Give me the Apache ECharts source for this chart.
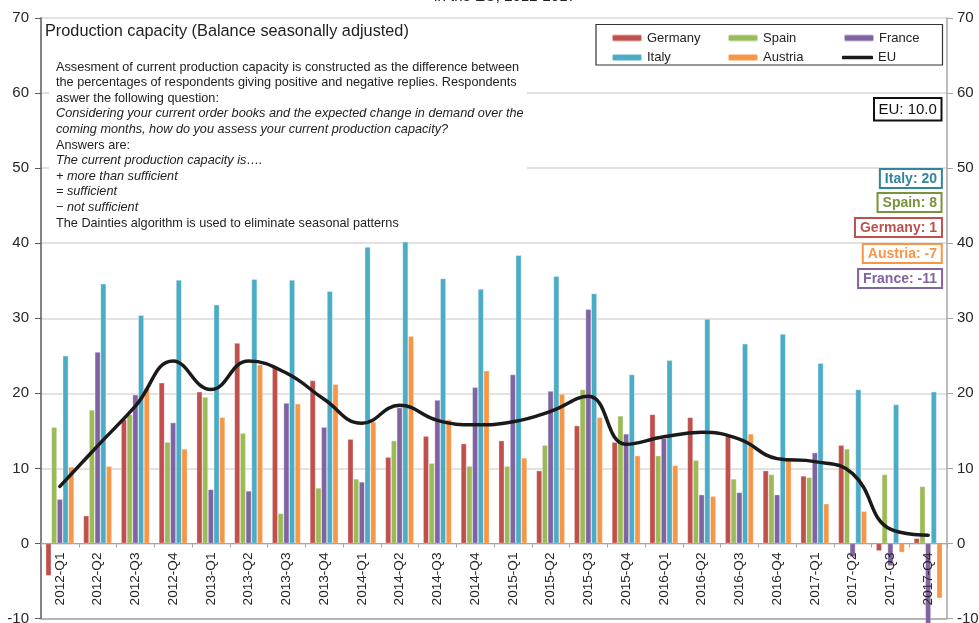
<!DOCTYPE html>
<html>
<head>
<meta charset="utf-8">
<script src="https://cdn.jsdelivr.net/npm/echarts@6/dist/echarts.min.js"></script>
<style>
  html, body { margin: 0; padding: 0; background: #fff; }
  #chart { width: 979px; height: 623px; }
</style>
</head>
<body>
<div id="chart"></div>
<script>
const categories = ['2012-Q1', '2012-Q2', '2012-Q3', '2012-Q4', '2013-Q1', '2013-Q2', '2013-Q3', '2013-Q4',
  '2014-Q1', '2014-Q2', '2014-Q3', '2014-Q4', '2015-Q1', '2015-Q2', '2015-Q3', '2015-Q4',
  '2016-Q1', '2016-Q2', '2016-Q3', '2016-Q4', '2017-Q1', '2017-Q2', '2017-Q3', '2017-Q4']
const germany = [-4.3, 3.7, 16.5, 21.4, 20.2, 26.7, 23.6, 21.7, 13.9, 11.5, 14.3, 13.3, 13.7, 9.7, 15.7, 13.5, 17.2, 16.8, 14.3, 9.7, 9.0, 13.1, -1.0, 0.7]
const spain = [15.5, 17.8, 17.2, 13.5, 19.5, 14.7, 4.0, 7.4, 8.6, 13.7, 10.7, 10.3, 10.3, 13.1, 20.5, 17.0, 11.7, 11.1, 8.6, 9.2, 8.8, 12.6, 9.2, 7.6]
const france = [5.9, 25.5, 19.8, 16.1, 7.2, 7.0, 18.7, 15.5, 8.2, 18.1, 19.1, 20.8, 22.5, 20.3, 31.2, 14.6, 14.0, 6.5, 6.8, 6.5, 12.1, -1.8, -3.0, -11.0]
const italy = [25.0, 34.6, 30.4, 35.1, 31.8, 35.2, 35.1, 33.6, 39.5, 40.2, 35.3, 33.9, 38.4, 35.6, 33.3, 22.5, 24.4, 29.9, 26.6, 27.9, 24.0, 20.5, 18.5, 20.2]
const austria = [10.2, 10.3, 20.7, 12.6, 16.8, 23.8, 18.6, 21.2, 16.2, 27.6, 16.5, 23.0, 11.4, 19.9, 16.8, 11.7, 10.4, 6.3, 14.6, 11.4, 5.3, 4.3, -1.2, -7.3]
const eu = [7.6, 13.0, 18.3, 24.3, 20.5, 24.3, 22.7, 19.2, 16.0, 18.4, 16.4, 15.8, 16.2, 17.6, 19.6, 13.2, 14.2, 14.8, 13.9, 11.3, 10.9, 9.3, 1.9, 1.1]

const latest = [
  {text: 'Italy: 20', color: '#31859c', top: 169},
  {text: 'Spain: 8', color: '#77933c', top: 193},
  {text: 'Germany: 1', color: '#c0504d', top: 218},
  {text: 'Austria: -7', color: '#f79646', top: 244},
  {text: 'France: -11', color: '#8064a2', top: 269}
]

const notes = [
  ['Assesment of current production capacity is constructed as the difference between', 'normal'],
  ['the percentages of respondents giving positive and negative replies. Respondents', 'normal'],
  ['aswer the following question:', 'normal'],
  ['Considering your current order books and the expected change in demand over the', 'italic'],
  ['coming months, how do you assess your current production capacity?', 'italic'],
  ['Answers are:', 'normal'],
  ['The current production capacity is….', 'italic'],
  ['+ more than sufficient', 'italic'],
  ['= sufficient', 'italic'],
  ['− not sufficient', 'italic'],
  ['The Dainties algorithm is used to eliminate seasonal patterns', 'normal']
]

const FONT = "'Liberation Sans', Arial, sans-serif"
const colors = {Germany: '#c0504d', Spain: '#9bbb59', France: '#8064a2', Italy: '#4bacc6', Austria: '#f79646'}

function barSeries(name, data) {
  return {
    name: name,
    type: 'bar',
    data: data,
    barWidth: 5.7,
    barGap: '0%',
    clip: false,
    itemStyle: {color: colors[name], borderColor: 'rgba(255,255,255,0.55)', borderWidth: 0.6}
  }
}

function legendAt(name, left, top) {
  return {
    data: [name],
    left: left,
    top: top,
    padding: 0,
    itemWidth: 30,
    itemHeight: 7,
    selectedMode: false,
    textStyle: {fontSize: 13, color: '#222', fontFamily: FONT}
  }
}

// EU legend gets a plain thick line, no dot
let euLegend = legendAt('EU', 842, 51)
euLegend.data = [{name: 'EU', icon: 'roundRect'}]
euLegend.itemHeight = 3.5
euLegend.itemWidth = 31

let graphics = [
  {type: 'text', z: 10, x: 505, y: 4.5, style: {text: 'in the EU, 2012-2017', align: 'center', verticalAlign: 'bottom', font: '15px ' + FONT, fill: '#222'}},
  {type: 'rect', z: 1, shape: {x: 49, y: 57, width: 478, height: 175}, style: {fill: '#fff'}},
  {type: 'text', z: 10, style: {text: 'Production capacity (Balance seasonally adjusted)', x: 45, y: 32, verticalAlign: 'middle', font: '16.3px ' + FONT, fill: '#222'}},
  {type: 'rect', z: 10, shape: {x: 596, y: 24.5, width: 346.5, height: 40.5}, style: {fill: 'none', stroke: '#333', lineWidth: 1.2}},
  {type: 'rect', z: 10, shape: {x: 874, y: 98, width: 67.5, height: 22.5}, style: {fill: '#fff', stroke: '#111', lineWidth: 2}},
  {type: 'text', z: 11, style: {text: 'EU: 10.0', x: 907.7, y: 109.5, align: 'center', verticalAlign: 'middle', font: '15px ' + FONT, fill: '#111'}}
]
notes.forEach(function (n, i) {
  graphics.push({
    type: 'text', z: 10,
    style: {text: n[0], x: 56, y: 67 + i * 15.6, verticalAlign: 'middle', font: n[1] + ' 12.7px ' + FONT, fill: '#222'}
  })
})

let titles = latest.map(function (b) {
  return {
    text: b.text,
    right: 37,
    top: b.top,
    padding: [2, 5, 1, 5],
    borderColor: b.color,
    borderWidth: 2,
    backgroundColor: '#fff',
    textStyle: {fontSize: 14, fontWeight: 'bold', color: b.color, fontFamily: FONT, lineHeight: 16}
  }
})

let option = {
  animation: false,
  backgroundColor: '#fff',
  textStyle: {fontFamily: FONT},
  title: titles,
  legend: [
    legendAt('Germany', 611, 31.5),
    legendAt('Spain', 727, 31.5),
    legendAt('France', 843, 31.5),
    legendAt('Italy', 611, 51),
    legendAt('Austria', 727, 51),
    euLegend
  ],
  graphic: graphics,
  grid: {left: 41, right: 32, top: 18, bottom: 4.5, containLabel: false, outerBoundsMode: 'none'},
  xAxis: [{
    // category axis drawn at the zero line (10 units above the bottom of the grid)
    type: 'category',
    data: categories,
    position: 'bottom',
    offset: -75,
    z: 5,
    axisLine: {onZero: false, lineStyle: {color: '#a6a6a6', width: 1.2}},
    axisTick: {show: true, length: 4, lineStyle: {color: '#a6a6a6'}},
    axisLabel: {rotate: 90, margin: 9, fontSize: 13.6, color: '#262626', fontFamily: FONT, interval: 0},
    splitLine: {show: false}
  }, {
    type: 'category',
    data: categories,
    position: 'bottom',
    axisLine: {onZero: false, lineStyle: {color: '#a6a6a6', width: 1.5}},
    axisTick: {show: false},
    axisLabel: {show: false},
    splitLine: {show: false}
  }],
  yAxis: [{
    type: 'value',
    min: -10,
    max: 70,
    interval: 10,
    axisLine: {show: true, lineStyle: {color: '#595959', width: 1.5}},
    axisTick: {show: true, length: 6, lineStyle: {color: '#595959'}},
    axisLabel: {fontSize: 15, color: '#262626', margin: 12, fontFamily: FONT},
    splitLine: {lineStyle: {color: '#d9d9d9', width: 1.5}}
  }, {
    type: 'value',
    position: 'right',
    min: -10,
    max: 70,
    interval: 10,
    axisLine: {show: true, lineStyle: {color: '#a6a6a6', width: 1.5}},
    axisTick: {show: true, length: 6, lineStyle: {color: '#a6a6a6'}},
    axisLabel: {fontSize: 15, color: '#262626', margin: 10, fontFamily: FONT},
    splitLine: {show: false}
  }],
  series: [
    barSeries('Germany', germany),
    barSeries('Spain', spain),
    barSeries('France', france),
    barSeries('Italy', italy),
    barSeries('Austria', austria),
    {
      name: 'EU',
      type: 'line',
      data: eu,
      smooth: 0.45,
      symbol: 'none',
      z: 4,
      itemStyle: {color: '#1a1a1a'},
      lineStyle: {color: '#1a1a1a', width: 3.5, cap: 'round'}
    }
  ]
}

let myChart = echarts.init(document.getElementById('chart'), null, {renderer: 'canvas'})
myChart.setOption(option)
</script>
</body>
</html>
